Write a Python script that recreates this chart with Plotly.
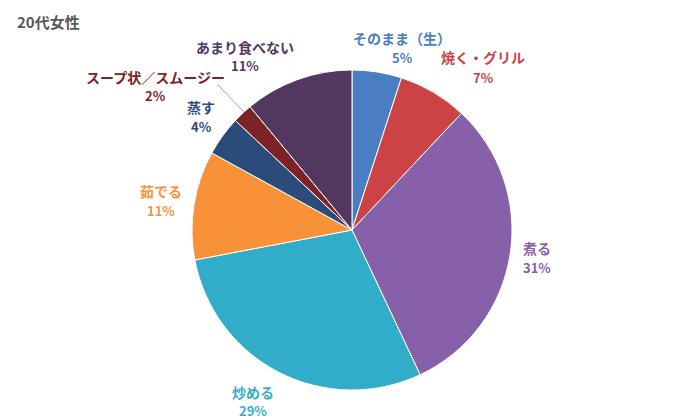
import plotly.graph_objects as go

labels = ["そのまま（生）", "焼く・グリル", "煮る", "炒める", "茹でる", "蒸す", "スープ状／スムージー", "あまり食べない"]
values = [5, 7, 31, 29, 11, 4, 2, 11]
colors = ["#4A7EC2", "#CB4345", "#8660A8", "#32ADC9", "#F89238", "#2B4B7A", "#7D2325", "#523761"]

# page body has an 8px offset; work in reference pixel coords and shift
OFF = 8
W, H = 700 - OFF, 420 - OFF


def px(x):
    return (x - OFF) / W


def py(y):
    return 1 - (y - OFF) / H


# label centre positions (name line y, percent line y) in reference pixels (style, not data)
label_pos = [(402, 38, 57), (483, 57, 77), (537, 248, 267), (253, 392, 410),
             (161, 191, 210), (201, 107, 126), (155, 77, 95), (245, 47, 65)]

fig = go.Figure(go.Pie(
    labels=labels, values=values, sort=False, direction="clockwise", rotation=0,
    marker=dict(colors=colors, line=dict(color="white", width=1)),
    textinfo="none", hoverinfo="label+percent", showlegend=False,
    domain=dict(x=[px(192), px(512)], y=[py(390), py(70)]),
))

font = "Noto Sans CJK JP"
ann = []
for lab, v, c, (x, y1, y2) in zip(labels, values, colors, label_pos):
    ann.append(dict(x=px(x), y=py(y1), xref="paper", yref="paper",
                    text=f"<b>{lab}</b>", showarrow=False,
                    font=dict(family=font, size=14, color=c),
                    xanchor="center", yanchor="middle"))
    ann.append(dict(x=px(x), y=py(y2), xref="paper", yref="paper",
                    text=f"<b>{v}%</b>", showarrow=False,
                    font=dict(family=font, size=13, color=c),
                    xanchor="center", yanchor="middle"))
ann.append(dict(x=px(15), y=py(22), xref="paper", yref="paper", text="<b>20代女性</b>",
                showarrow=False, xanchor="left", yanchor="middle",
                font=dict(family=font, size=15, color="#595959")))

fig.update_layout(
    width=W, height=H, margin=dict(l=0, r=0, t=0, b=0),
    paper_bgcolor="white", plot_bgcolor="white",
    annotations=ann,
    shapes=[dict(type="line", xref="paper", yref="paper",
                 x0=px(218), y0=py(85), x1=px(244), y1=py(112),
                 line=dict(color="#A6A6A6", width=1))],
)
fig.write_html("out.html")
